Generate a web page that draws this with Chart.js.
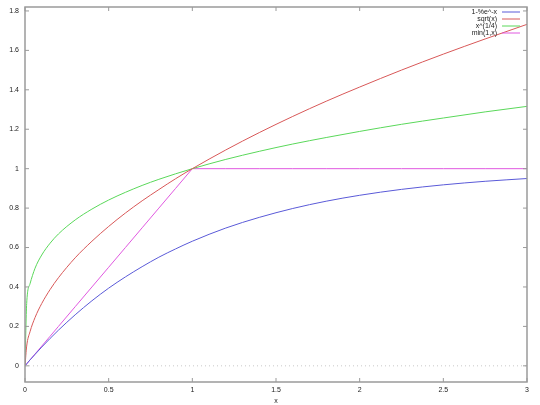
<!DOCTYPE html>
<html>
<head>
<meta charset="utf-8">
<script src="https://cdn.jsdelivr.net/npm/chart.js@4/dist/chart.umd.min.js"></script>
<style>
  html, body { margin: 0; padding: 0; background: #fff; }
  #wrap { width: 540px; height: 405px; }
</style>
</head>
<body>
<div id="wrap"><canvas id="myChart"></canvas></div>
<script>
// values
const xs = [0, 0.01, 0.03, 0.06, 0.1, 0.15, 0.2, 0.3, 0.4, 0.5, 0.6, 0.7, 0.8, 0.9, 1.0,
            1.2, 1.4, 1.6, 1.8, 2.0, 2.25, 2.5, 2.75, 3.0];
const expVals  = [0, 0.01, 0.03, 0.058, 0.095, 0.139, 0.181, 0.259, 0.33, 0.394, 0.451, 0.503, 0.551, 0.593, 0.632,
                  0.699, 0.753, 0.798, 0.835, 0.865, 0.895, 0.918, 0.936, 0.95];
const sqrtVals = [0, 0.1, 0.173, 0.245, 0.316, 0.387, 0.447, 0.548, 0.632, 0.707, 0.775, 0.837, 0.894, 0.949, 1.0,
                  1.095, 1.183, 1.265, 1.342, 1.414, 1.5, 1.581, 1.658, 1.732];
const qrtVals  = [0, 0.316, 0.416, 0.495, 0.562, 0.622, 0.669, 0.74, 0.795, 0.841, 0.88, 0.915, 0.946, 0.974, 1.0,
                  1.047, 1.088, 1.125, 1.158, 1.189, 1.225, 1.257, 1.288, 1.316];
const minVals  = [0, 0.01, 0.03, 0.06, 0.1, 0.15, 0.2, 0.3, 0.4, 0.5, 0.6, 0.7, 0.8, 0.9, 1.0,
                  1, 1, 1, 1, 1, 1, 1, 1, 1];
const names = ['1-%e^-x', 'sqrt(x)', 'x^(1/4)', 'min(1,x)'];
const colors = ['#5a5ad8', '#d85858', '#5ad85a', '#e058e0'];
const xTicks = [0, 0.5, 1, 1.5, 2, 2.5, 3];
const yTicks = [0, 0.2, 0.4, 0.6, 0.8, 1, 1.2, 1.4, 1.6, 1.8];

const pts = (ys) => xs.map((x, i) => ({x: x, y: ys[i]}));
const fmt = v => String(+(+v).toFixed(2));

const gnuplotFrame = {
    id: 'gnuplotFrame',
    beforeDatasetsDraw(chart) {
        const ctx = chart.ctx, a = chart.chartArea;
        const ys_ = chart.scales.y;
        ctx.save();
        // dotted zero axis
        const y0 = ys_.getPixelForValue(0);
        ctx.strokeStyle = '#c8c8c8';
        ctx.lineWidth = 1;
        ctx.setLineDash([1, 3]);
        ctx.beginPath();
        ctx.moveTo(a.left, y0); ctx.lineTo(a.right, y0);
        ctx.stroke();
        ctx.restore();
    },
    afterDatasetsDraw(chart) {
        const ctx = chart.ctx, a = chart.chartArea;
        const xs_ = chart.scales.x, ys_ = chart.scales.y;
        ctx.save();
        ctx.strokeStyle = '#9a9a9a';
        ctx.lineWidth = 1.5;
        ctx.strokeRect(a.left, a.top, a.right - a.left, a.bottom - a.top);
        ctx.lineWidth = 1;
        ctx.beginPath();
        xTicks.forEach(v => {
            const p = xs_.getPixelForValue(v);
            ctx.moveTo(p, a.bottom); ctx.lineTo(p, a.bottom - 4);
            ctx.moveTo(p, a.top); ctx.lineTo(p, a.top + 4);
        });
        yTicks.forEach(v => {
            const p = ys_.getPixelForValue(v);
            ctx.moveTo(a.left, p); ctx.lineTo(a.left + 4, p);
            ctx.moveTo(a.right, p); ctx.lineTo(a.right - 4, p);
        });
        ctx.stroke();

        // legend, gnuplot style
        ctx.font = '7px "Liberation Sans", sans-serif';
        ctx.textAlign = 'right';
        ctx.textBaseline = 'middle';
        names.forEach((n, i) => {
            const yy = 12 + i * 7;
            ctx.fillStyle = '#222';
            ctx.fillText(n, 497, yy);
            ctx.strokeStyle = colors[i];
            ctx.beginPath();
            ctx.moveTo(502, yy); ctx.lineTo(520, yy);
            ctx.stroke();
        });
        ctx.restore();
    }
};

document.addEventListener("DOMContentLoaded", function(){
    const ctx = document.getElementById('myChart').getContext('2d');
    window.myChart = new Chart(ctx, {
        type: 'line',
        data: {
            datasets: [expVals, sqrtVals, qrtVals, minVals].map((ys, i) => ({
                label: names[i],
                data: pts(ys),
                borderColor: colors[i],
                borderWidth: 1,
                pointRadius: 0,
                fill: false,
                cubicInterpolationMode: i === 3 ? 'default' : 'monotone',
                tension: 0
            }))
        },
        options: {
            responsive: true,
            maintainAspectRatio: false,
            animation: false,
            layout: { padding: { top: 7, right: 13, left: 0, bottom: 0 } },
            plugins: { legend: { display: false }, tooltip: { enabled: false } },
            scales: {
                x: {
                    type: 'linear',
                    min: 0, max: 3,
                    afterBuildTicks: s => { s.ticks = xTicks.map(v => ({value: v})); },
                    afterFit: s => { s.height = 23; s.paddingLeft = 0; s.paddingRight = 0; },
                    grid: { display: false, drawTicks: false, tickLength: 0 },
                    border: { display: false },
                    ticks: { color: '#222', font: { size: 7, family: 'Liberation Sans' }, padding: 4,
                             maxRotation: 0, autoSkip: false, callback: fmt },
                    title: { display: true, text: 'x', color: '#222', padding: 0,
                             font: { size: 7, family: 'Liberation Sans' } }
                },
                y: {
                    type: 'linear',
                    min: -0.082, max: 1.82,
                    afterBuildTicks: s => { s.ticks = yTicks.map(v => ({value: v})); },
                    afterFit: s => { s.width = 25; s.paddingTop = 0; s.paddingBottom = 0; },
                    grid: { display: false, drawTicks: false, tickLength: 0 },
                    border: { display: false },
                    ticks: { color: '#222', font: { size: 7, family: 'Liberation Sans' }, padding: 6,
                             callback: fmt }
                }
            }
        },
        plugins: [gnuplotFrame]
    });
});
</script>
</body>
</html>
